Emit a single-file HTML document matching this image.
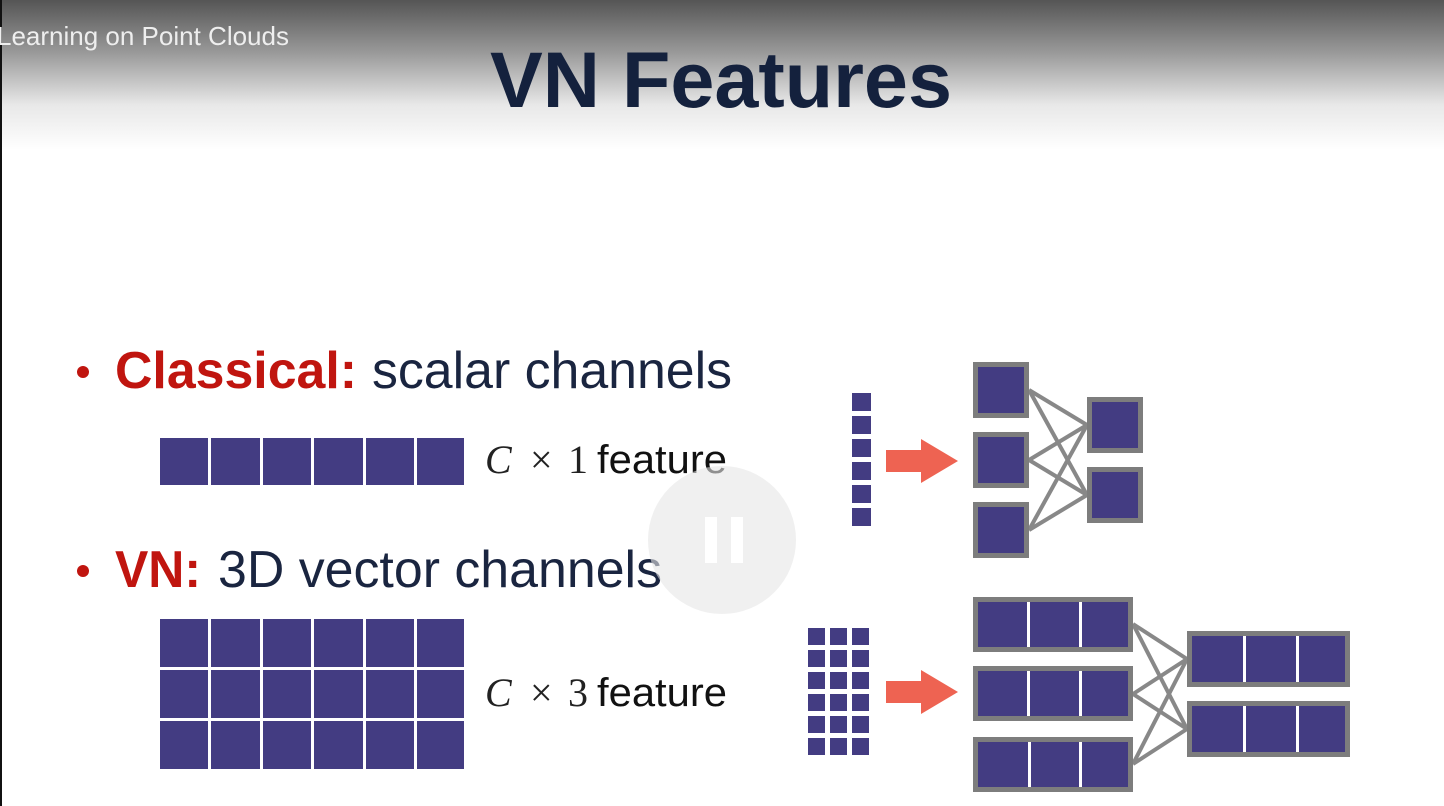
<!DOCTYPE html>
<html><head><meta charset="utf-8"><style>
html,body{margin:0;padding:0;background:#fff;width:1444px;height:806px;overflow:hidden}
svg{display:block}
</style></head><body>
<svg width="1444" height="806" xmlns="http://www.w3.org/2000/svg">
<defs>
<linearGradient id="g" x1="0" y1="0" x2="0" y2="1">
<stop offset="0" stop-color="#555"/>
<stop offset="0.35" stop-color="#999"/>
<stop offset="0.7" stop-color="#e8e8e8"/>
<stop offset="1" stop-color="#fff"/>
</linearGradient>
</defs>
<rect width="1444" height="806" fill="#fff"/>
<rect width="1444" height="150" fill="url(#g)"/>
<rect x="0" y="0" width="2" height="806" fill="#111"/>
<text x="-3" y="45" font-family="Liberation Sans, sans-serif" font-size="26" fill="#eee">Learning on Point Clouds</text>
<text x="490" y="107" font-family="Liberation Sans, sans-serif" font-weight="bold" font-size="79" fill="#14213d" textLength="462" lengthAdjust="spacingAndGlyphs">VN Features</text>

<!-- bullets -->
<circle cx="83" cy="372" r="6" fill="#c0150f"/>
<text x="115" y="388" font-family="Liberation Sans, sans-serif" font-weight="bold" font-size="52" fill="#c0150f" textLength="242" lengthAdjust="spacingAndGlyphs">Classical:</text>
<text x="372" y="388" font-family="Liberation Sans, sans-serif" font-size="52" fill="#1a2540" textLength="360" lengthAdjust="spacingAndGlyphs">scalar channels</text>
<circle cx="83" cy="571" r="6" fill="#c0150f"/>
<text x="115" y="587" font-family="Liberation Sans, sans-serif" font-weight="bold" font-size="52" fill="#c0150f" textLength="86" lengthAdjust="spacingAndGlyphs">VN:</text>
<text x="218" y="587" font-family="Liberation Sans, sans-serif" font-size="52" fill="#1a2540" textLength="444" lengthAdjust="spacingAndGlyphs">3D vector channels</text>

<g fill="#433c82">
<rect x="160" y="438" width="48" height="47"/><rect x="211" y="438" width="49" height="47"/><rect x="263" y="438" width="48" height="47"/><rect x="314" y="438" width="49" height="47"/><rect x="366" y="438" width="48" height="47"/><rect x="417" y="438" width="47" height="47"/>
<rect x="160" y="619" width="48" height="48"/><rect x="211" y="619" width="49" height="48"/><rect x="263" y="619" width="48" height="48"/><rect x="314" y="619" width="49" height="48"/><rect x="366" y="619" width="48" height="48"/><rect x="417" y="619" width="47" height="48"/>
<rect x="160" y="670" width="48" height="48"/><rect x="211" y="670" width="49" height="48"/><rect x="263" y="670" width="48" height="48"/><rect x="314" y="670" width="49" height="48"/><rect x="366" y="670" width="48" height="48"/><rect x="417" y="670" width="47" height="48"/>
<rect x="160" y="721" width="48" height="48"/><rect x="211" y="721" width="49" height="48"/><rect x="263" y="721" width="48" height="48"/><rect x="314" y="721" width="49" height="48"/><rect x="366" y="721" width="48" height="48"/><rect x="417" y="721" width="47" height="48"/>
</g>
<g font-size="40" fill="#222">
<text x="485" y="473" font-family="Liberation Serif, serif" font-style="italic">C</text>
<text x="530" y="473" font-family="Liberation Serif, serif">×</text>
<text x="568" y="473" font-family="Liberation Serif, serif">1</text>
<text x="597" y="473" font-family="Liberation Sans, sans-serif" fill="#111" textLength="130" lengthAdjust="spacingAndGlyphs">feature</text>
<text x="485" y="706" font-family="Liberation Serif, serif" font-style="italic">C</text>
<text x="530" y="706" font-family="Liberation Serif, serif">×</text>
<text x="568" y="706" font-family="Liberation Serif, serif">3</text>
<text x="597" y="706" font-family="Liberation Sans, sans-serif" fill="#111" textLength="130" lengthAdjust="spacingAndGlyphs">feature</text>
</g>

<!-- right top diagram -->
<g fill="#433c82">
<rect x="852" y="393" width="19" height="18"/><rect x="852" y="416" width="19" height="18"/><rect x="852" y="439" width="19" height="18"/><rect x="852" y="462" width="19" height="18"/><rect x="852" y="485" width="19" height="18"/><rect x="852" y="508" width="19" height="18"/>
</g>
<polygon points="886,450 921,450 921,439 958,461 921,483 921,472 886,472" fill="#ee6352"/>
<g stroke="#888" stroke-width="4">
<line x1="1029" y1="390" x2="1087" y2="425"/><line x1="1029" y1="390" x2="1087" y2="495"/>
<line x1="1029" y1="460" x2="1087" y2="425"/><line x1="1029" y1="460" x2="1087" y2="495"/>
<line x1="1029" y1="530" x2="1087" y2="425"/><line x1="1029" y1="530" x2="1087" y2="495"/>
</g>
<g fill="#433c82" stroke="#7d7d7d" stroke-width="5">
<rect x="975.5" y="364.5" width="51" height="51"/><rect x="975.5" y="434.5" width="51" height="51"/><rect x="975.5" y="504.5" width="51" height="51"/>
<rect x="1089.5" y="399.5" width="51" height="51"/><rect x="1089.5" y="469.5" width="51" height="51"/>
</g>

<!-- right bottom diagram -->
<g fill="#433c82">
<rect x="808" y="628" width="17" height="17"/><rect x="830" y="628" width="17" height="17"/><rect x="852" y="628" width="17" height="17"/>
<rect x="808" y="650" width="17" height="17"/><rect x="830" y="650" width="17" height="17"/><rect x="852" y="650" width="17" height="17"/>
<rect x="808" y="672" width="17" height="17"/><rect x="830" y="672" width="17" height="17"/><rect x="852" y="672" width="17" height="17"/>
<rect x="808" y="694" width="17" height="17"/><rect x="830" y="694" width="17" height="17"/><rect x="852" y="694" width="17" height="17"/>
<rect x="808" y="716" width="17" height="17"/><rect x="830" y="716" width="17" height="17"/><rect x="852" y="716" width="17" height="17"/>
<rect x="808" y="738" width="17" height="17"/><rect x="830" y="738" width="17" height="17"/><rect x="852" y="738" width="17" height="17"/>
</g>
<polygon points="886,681 921,681 921,670 958,692 921,714 921,703 886,703" fill="#ee6352"/>
<g stroke="#888" stroke-width="4">
<line x1="1133" y1="624" x2="1187" y2="659"/><line x1="1133" y1="624" x2="1187" y2="729"/>
<line x1="1133" y1="694" x2="1187" y2="659"/><line x1="1133" y1="694" x2="1187" y2="729"/>
<line x1="1133" y1="764" x2="1187" y2="659"/><line x1="1133" y1="764" x2="1187" y2="729"/>
</g>
<g fill="#433c82" stroke="#7d7d7d" stroke-width="5">
<rect x="975.5" y="599.5" width="155" height="50"/><rect x="975.5" y="668.5" width="155" height="50"/><rect x="975.5" y="739.5" width="155" height="50"/>
<rect x="1189.5" y="633.5" width="158" height="51"/><rect x="1189.5" y="703.5" width="158" height="51"/>
</g>
<g fill="#fff">
<rect x="1027" y="602" width="3" height="45"/><rect x="1079" y="602" width="3" height="45"/>
<rect x="1027" y="671" width="3" height="45"/><rect x="1079" y="671" width="3" height="45"/>
<rect x="1028" y="742" width="3" height="45"/><rect x="1079" y="742" width="3" height="45"/>
<rect x="1243" y="636" width="3" height="46"/><rect x="1296" y="636" width="3" height="46"/>
<rect x="1243" y="706" width="3" height="46"/><rect x="1296" y="706" width="3" height="46"/>
</g>

<!-- pause overlay -->
<circle cx="722" cy="540" r="74" fill="#e6e6e6" fill-opacity="0.6"/>
<rect x="705" y="517" width="12" height="46" fill="#fff"/>
<rect x="731" y="517" width="12" height="46" fill="#fff"/>
</svg>
</body></html>
